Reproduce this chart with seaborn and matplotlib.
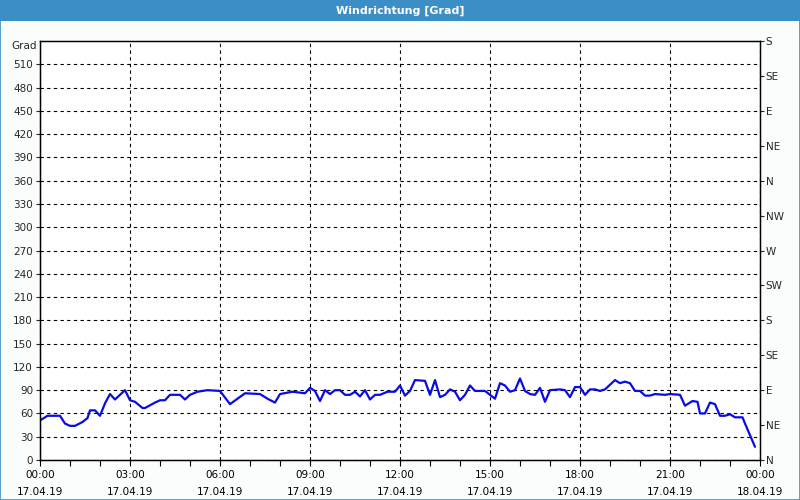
import matplotlib
matplotlib.use("Agg")
import matplotlib.pyplot as plt
from matplotlib.patches import Rectangle
from matplotlib.ticker import MultipleLocator
import seaborn as sns
import pandas as pd

# ---- data (minutes since 00:00 on 17.04.19, wind direction in degrees) ----
minutes = [0, 15, 40, 50, 60, 70, 85, 95, 100, 110, 120, 130, 140, 150, 170, 180, 190, 205, 210,
           230, 240, 250, 260, 280, 290, 300, 315, 335, 360, 380, 410, 440, 455, 470, 480, 505,
           530, 540, 550, 560, 570, 580, 590, 600, 610, 620, 630, 640, 650, 660, 670, 680, 695,
           710, 720, 730, 740, 750, 770, 780, 790, 800, 810, 820, 830, 840, 850, 860, 870, 890,
           910, 920, 930, 940, 950, 960, 970, 980, 990, 1000, 1010, 1020, 1040, 1050, 1060, 1070,
           1080, 1090, 1100, 1110, 1120, 1130, 1150, 1160, 1170, 1180, 1190, 1200, 1210, 1220,
           1230, 1250, 1260, 1280, 1290, 1305, 1315, 1320, 1330, 1340, 1350, 1360, 1370, 1380,
           1390, 1405, 1410, 1420, 1430]
degrees = [51, 57, 57, 47, 44, 44, 49, 54, 64, 64, 57, 73, 85, 78, 90, 77, 75, 67, 67,
           74, 77, 77, 84, 84, 78, 84, 88, 90, 89, 72, 86, 85, 79, 74, 85, 88,
           86, 93, 89, 76, 90, 85, 90, 90, 84, 84, 88, 82, 90, 78, 84, 84, 88,
           88, 96, 83, 89, 103, 102, 84, 103, 81, 84, 91, 88, 77, 84, 96, 89, 89,
           79, 99, 96, 88, 90, 105, 89, 85, 84, 93, 75, 90, 91, 90, 81, 94,
           94, 84, 91, 91, 89, 91, 103, 99, 101, 99, 89, 89, 83, 83,
           85, 84, 85, 84, 70, 76, 75, 60, 60, 74, 72, 57, 57, 59,
           55, 55, 47, 32, 17]

x_tick_hours = [0, 3, 6, 9, 12, 15, 18, 21, 24]
x_tick_labels = ["00:00\n17.04.19", "03:00\n17.04.19", "06:00\n17.04.19", "09:00\n17.04.19",
                 "12:00\n17.04.19", "15:00\n17.04.19", "18:00\n17.04.19", "21:00\n17.04.19",
                 "00:00\n18.04.19"]
y_ticks = list(range(0, 511, 30))
compass_ticks = list(range(0, 541, 45))
compass_labels = ["N", "NE", "E", "SE", "S", "SW", "W", "NW", "N", "NE", "E", "SE", "S"]

df = pd.DataFrame({"hour": [m / 60 for m in minutes], "deg": degrees})

sns.set_style("ticks")
plt.rcParams["font.family"] = ["DejaVu Sans"]
plt.rcParams["font.size"] = 7.5

fig = plt.figure(figsize=(8, 5), dpi=100)
fig.patch.set_facecolor("#fbfdfc")

# title bar
fig.patches.append(Rectangle((0, 1 - 21 / 500), 1, 21 / 500, transform=fig.transFigure,
                             facecolor="#3c8fc6", edgecolor="none", zorder=0))
fig.patches.append(Rectangle((0.0006, 0.001), 0.9988, 0.998, transform=fig.transFigure,
                             facecolor="none", edgecolor="#3c8fc6", linewidth=1.2, zorder=5))
fig.text(0.5, 1 - 10.5 / 500, "Windrichtung [Grad]", color="white", fontweight="bold",
         ha="center", va="center", fontsize=8)

ax = fig.add_axes([40 / 800, 40 / 500, 720 / 800, 419 / 500])
ax.set_facecolor("white")

sns.lineplot(data=df, x="hour", y="deg", ax=ax, color="#0a0ae6", linewidth=1.6)

ax.set_xlim(0, 24)
ax.set_ylim(0, 540)
ax.set_xticks(x_tick_hours)
ax.set_xticklabels(x_tick_labels, linespacing=1.95)
ax.xaxis.set_minor_locator(MultipleLocator(1))
ax.set_yticks(y_ticks)
ax.set_xlabel("")
ax.set_ylabel("")
ax.grid(True, which="major", color="black", linestyle=(0, (3, 3)), linewidth=0.8)
ax.tick_params(axis="x", which="both", length=4, width=0.8, colors="black", pad=3)
ax.tick_params(axis="y", length=3, width=0.8, pad=2)
for s in ax.spines.values():
    s.set_color("black")
    s.set_linewidth(1.0)
    s.set_visible(True)

ax2 = ax.twinx()
ax2.set_ylim(0, 540)
ax2.set_yticks(compass_ticks)
ax2.set_yticklabels(compass_labels)
ax2.tick_params(axis="y", length=3, width=0.8, pad=1)
for s in ax2.spines.values():
    s.set_color("black")

fig.text(37 / 800, 1 - 46 / 500, "Grad", ha="right", va="center", fontsize=7.5)

fig.savefig("out.png", dpi=100, facecolor=fig.get_facecolor())
